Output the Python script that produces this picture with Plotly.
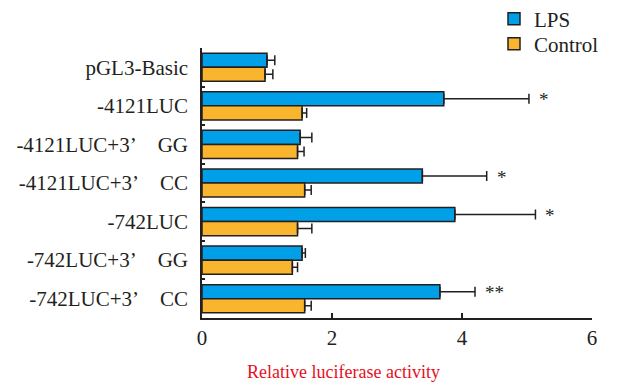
import plotly.graph_objects as go

categories = ["pGL3-Basic", "-4121LUC", "-4121LUC+3’\u2003GG", "-4121LUC+3’\u2003CC",
              "-742LUC", "-742LUC+3’\u2003GG", "-742LUC+3’\u2003CC"]
lps = [1.00, 3.72, 1.51, 3.39, 3.89, 1.54, 3.66]
lps_err = [0.12, 1.31, 0.18, 0.99, 1.24, 0.05, 0.54]
control = [0.97, 1.54, 1.47, 1.58, 1.47, 1.39, 1.58]
control_err = [0.12, 0.07, 0.10, 0.10, 0.22, 0.08, 0.10]
stars = ["", "*", "", "*", "*", "", "**"]
x_ticks = [0, 2, 4, 6]

FONT = "Liberation Serif"
DARK = "#231f20"
FS = 21

# plot area in pixels
L, R, T, B = 202, 592, 48, 318
W, H = R - L, B - T

def px_x(p):
    return (p - L) / W

def px_y(p):
    return (B - p) / H

fig = go.Figure()
fig.add_trace(go.Bar(
    name="LPS", y=categories, x=lps, orientation="h", legend="legend",
    marker=dict(color="#00a0e9", line=dict(color=DARK, width=1.5)),
    error_x=dict(type="data", array=lps_err, arrayminus=[0]*len(lps), symmetric=False,
                 color=DARK, thickness=1.5, width=5),
))
fig.add_trace(go.Bar(
    name="Control", y=categories, x=control, orientation="h", legend="legend2",
    marker=dict(color="#f9b52d", line=dict(color=DARK, width=1.5)),
    error_x=dict(type="data", array=control_err, arrayminus=[0]*len(control), symmetric=False,
                 color=DARK, thickness=1.5, width=5),
))

for cat, v, e, s in zip(categories, lps, lps_err, stars):
    if s:
        fig.add_annotation(x=v + e, y=cat, text=s, showarrow=False, xref="x", yref="y",
                           xanchor="left", xshift=8, yshift=6,
                           font=dict(family=FONT, size=19, color=DARK))

fig.add_annotation(x=px_x(343), y=px_y(372), xref="paper", yref="paper",
                   xanchor="center", yanchor="middle",
                   text="Relative luciferase activity", showarrow=False,
                   font=dict(family=FONT, size=18, color="#e60f1e"))

leg_common = dict(xanchor="left", yanchor="middle", font=dict(family=FONT, size=FS, color=DARK),
                  bgcolor="rgba(0,0,0,0)", itemwidth=30)
fig.update_layout(
    width=630, height=387,
    margin=dict(l=L, r=630 - R, t=T, b=387 - B, autoexpand=False),
    paper_bgcolor="white", plot_bgcolor="white",
    barmode="group", bargap=0.27, bargroupgap=0.0,
    font=dict(family=FONT, size=FS, color=DARK),
    legend=dict(x=px_x(494), y=px_y(19), **leg_common),
    legend2=dict(x=px_x(494), y=px_y(44), **leg_common),
    showlegend=True,
)
fig.update_xaxes(range=[0, 6], tickvals=x_ticks, ticks="inside", ticklen=5, tickwidth=1.5,
                 tickcolor=DARK, showline=True, linecolor=DARK, linewidth=1.5,
                 showgrid=False, zeroline=False, tickfont=dict(family=FONT, size=FS, color=DARK))
fig.update_yaxes(autorange="reversed", ticks="inside", tickson="boundaries", ticklen=3,
                 tickwidth=1.5, tickcolor=DARK, showline=True, linecolor=DARK, linewidth=1.5,
                 showgrid=False, ticklabelstandoff=8, tickfont=dict(family=FONT, size=FS, color=DARK))

fig.write_html("out.html", config={"displayModeBar": False},
               post_script="document.body.style.margin='0';")
